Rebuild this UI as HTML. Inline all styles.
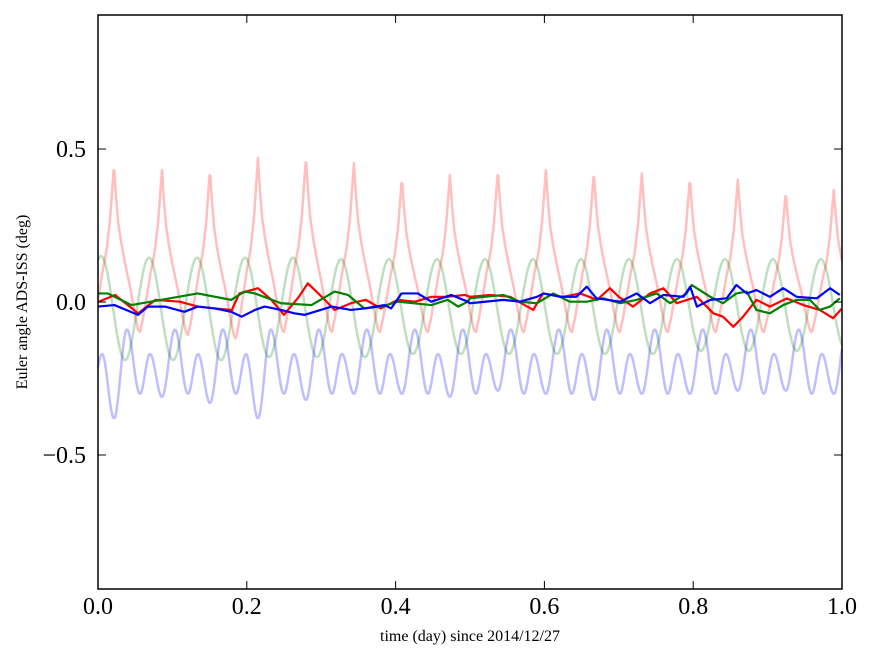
<!DOCTYPE html>
<html><head><meta charset="utf-8"><style>
html,body{margin:0;padding:0;background:#fff;width:875px;height:662px;overflow:hidden}
svg{display:block;font-family:"Liberation Serif",serif}
</style></head><body>
<svg id="chart" width="875" height="662" viewBox="0 0 875 662" xmlns="http://www.w3.org/2000/svg">
<rect x="0" y="0" width="875" height="662" fill="#fff"/>
<g id="faint"></g>
<g id="bold"></g>
<g id="axes"></g>
</svg>
<script>
// ---- data ----
const redT = [0,.023,.054,.077,.11,.134,.157,.18,.19,.215,.233,.25,.27,.282,.305,.318,.34,.36,.38,.403,.426,.448,.47,.493,.5,.527,.554,.585,.598,.625,.648,.671,.688,.7,.719,.742,.76,.778,.805,.827,.84,.854,.867,.885,.903,.926,.948,.97,.988,1.0];
const redV = [0,.023,-.037,.007,.001,-.015,-.021,-.026,.028,.045,.007,-.042,.017,.061,.007,-.026,-.004,.007,-.021,.007,.001,.017,.017,.023,.017,.023,.017,-.026,.028,.017,.028,.007,.045,.017,-.015,.028,.045,-.004,.017,-.037,-.048,-.081,-.048,.007,-.015,.012,-.010,-.026,-.053,-.021];
const greenT = [0,.013,.045,.134,.179,.197,.211,.246,.287,.318,.336,.358,.381,.403,.448,.47,.484,.497,.5,.545,.567,.59,.612,.634,.657,.679,.702,.724,.751,.769,.791,.798,.823,.84,.858,.872,.885,.903,.921,.939,.957,.97,.984,.997];
const greenV = [.028,.028,-.010,.028,.007,.034,.028,-.004,-.010,.034,.023,-.021,-.015,.001,-.010,.007,-.015,.001,.012,.023,.001,-.004,.028,.001,.001,.012,-.004,.007,.028,-.004,.028,.0555,.017,-.004,.028,.034,-.026,-.037,-.010,.007,.007,-.026,-.015,.012];
const blueT = [0,.022,.054,.067,.09,.116,.134,.157,.179,.193,.211,.224,.246,.264,.278,.314,.34,.358,.385,.394,.408,.43,.448,.475,.497,.5,.545,.567,.59,.599,.621,.643,.657,.67,.702,.724,.742,.76,.787,.796,.805,.823,.845,.858,.872,.885,.903,.921,.939,.966,.984,.997];
const blueV = [-.015,-.010,-.042,-.015,-.015,-.032,-.015,-.021,-.032,-.048,-.026,-.015,-.026,-.037,-.042,-.015,-.026,-.021,-.010,-.021,.028,.028,.001,.023,.001,-.004,.007,.001,.017,.028,.017,.017,.050,.012,.001,.028,-.004,.023,.017,.050,-.015,.007,.012,.0555,.028,.039,.017,.045,.017,.012,.045,.023];
// faint periodic series: per-orbit extrema
const redPeak = [.448,.431,.431,.471,.474,.454,.405,.415,.431,.431,.425,.42,.405,.4,.36,.366];
const redTrough = [-.1,-.11,-.12,-.1,-.1,-.1,-.1,-.1,-.1,-.1,-.1,-.1,-.1,-.1,-.1,-.1];
const greenPeak = [.15,.145,.145,.145,.145,.14,.14,.14,.14,.14,.14,.14,.14,.14,.14,.14];
const greenTrough = [-.19,-.19,-.19,-.18,-.18,-.18,-.17,-.17,-.17,-.17,-.17,-.17,-.16,-.16,-.16,-.15];
const blueDeep = [-.38,-.31,-.33,-.38,-.32,-.30,-.30,-.31,-.29,-.30,-.32,-.30,-.30,-.29,-.29,-.30];
const xTicks = [0,0.2,0.4,0.6,0.8,1.0];
const xTickLabels = ["0.0","0.2","0.4","0.6","0.8","1.0"];
const yTicks = [0.5,0,-0.5];
const yTickLabels = ["0.5","0.0","\u22120.5"];
const period = 0.0645, phase0 = 0.0215;

// ---- axes ----
const L=98,R=842,T=15,B=589,yMax=0.938,yMin=-0.938;
const sx=v=>L+(v-0)/(1-0)*(R-L);
const sy=v=>T+(yMax-v)/(yMax-yMin)*(B-T);
const NS="http://www.w3.org/2000/svg";
function mk(tag,attrs,parent){const e=document.createElementNS(NS,tag);for(const k in attrs)e.setAttribute(k,attrs[k]);parent.appendChild(e);return e;}
const faint=document.getElementById('faint'),bold=document.getElementById('bold'),axes=document.getElementById('axes');

const clampK=k=>Math.max(0,Math.min(15,k));
const ease=(a,b,f)=>a+(b-a)*(1-Math.cos(Math.PI*f))/2;
const lin=(a,b,f)=>a+(b-a)*f;
function keyInterp(keys,t,fn){fn=fn||ease;for(let i=0;i<keys.length-1;i++){if(t>=keys[i][0]&&t<=keys[i+1][0]){const f=(t-keys[i][0])/(keys[i+1][0]-keys[i][0]);return fn(keys[i][1],keys[i+1][1],f);}}return keys[keys.length-1][1];}
function redAt(x){const u=(x-phase0)/period,k=Math.floor(u),t=u-k;const P0=redPeak[clampK(k)],P1=redPeak[clampK(k+1)],tr=redTrough[clampK(k)];
 const down=[[0,1],[.04,.82],[.09,.65],[.16,.52],[.24,.4],[.33,.28],[.42,.13],[.5,.02],[.54,0]],up=[[.54,0],[.6,.08],[.68,.22],[.77,.38],[.85,.5],[.92,.68],[.97,.88],[1,1]];
 if(t<=.54){const f=keyInterp(down,t,lin);return tr+(P0-tr)*f;}const f=keyInterp(up,t,lin);return tr+(P1-tr)*f;}
function greenAt(x){const u=(x-phase0)/period,k=clampK(Math.round(u));const mid=(greenPeak[k]+greenTrough[k])/2,amp=(greenPeak[k]-greenTrough[k])/2;return mid+amp*Math.cos(2*Math.PI*(u-0.73));}
function blueAt(x){const u=(x-phase0)/period,k=Math.floor(u),t=u-k;const keys=[[0,blueDeep[clampK(k)]],[.27,-.09],[.54,-.30],[.75,-.17],[1,blueDeep[clampK(k+1)]]];return keyInterp(keys,t);}

function faintLine(fn,color,name){let d='';for(let i=0;i<=1000;i++){const x=i/1000;d+=(i?'L':'M')+sx(x).toFixed(2)+','+sy(fn(x)).toFixed(2);}
 const p=mk('path',{d:d,fill:'none',stroke:color,'stroke-width':2.5,'stroke-linejoin':'round'},faint);
 
 }
faintLine(greenAt,'rgba(0,128,0,0.25)','faint-green-line');
faintLine(blueAt,'rgba(0,0,255,0.25)','faint-blue-line');
faintLine(redAt,'rgba(255,0,0,0.25)','faint-red-line');

function boldLine(ts,vs,color,name){let d='';ts.forEach((t,i)=>{d+=(i?'L':'M')+sx(t).toFixed(2)+','+sy(vs[i]).toFixed(2);});
 const p=mk('path',{d:d,fill:'none',stroke:color,'stroke-width':2.2,'stroke-linejoin':'round'},bold);
 
 }
boldLine(redT,redV,'#ff0000','red-line');
boldLine(greenT,greenV,'#008000','green-line');
boldLine(blueT,blueV,'#0000ff','blue-line');

const frame=mk('rect',{x:L,y:T,width:R-L,height:B-T,fill:'none',stroke:'#000','stroke-width':1.5},axes);


xTicks.forEach((v,i)=>{const x=sx(v);
 mk('line',{x1:x,y1:B,x2:x,y2:B-8,stroke:'#000','stroke-width':1},axes);
 mk('line',{x1:x,y1:T,x2:x,y2:T+8,stroke:'#000','stroke-width':1},axes);
 const t=mk('text',{x:x,y:B+25,'font-size':24,'text-anchor':'middle'},axes);t.textContent=xTickLabels[i];
 
 });
yTicks.forEach((v,i)=>{const y=sy(v);
 mk('line',{x1:L,y1:y,x2:L+8,y2:y,stroke:'#000','stroke-width':1},axes);
 mk('line',{x1:R,y1:y,x2:R-8,y2:y,stroke:'#000','stroke-width':1},axes);
 const t=mk('text',{x:L-12,y:y+8,'font-size':24,'text-anchor':'end'},axes);t.textContent=yTickLabels[i];
 
 });
const xl=mk('text',{x:(L+R)/2,y:641,'font-size':16,'text-anchor':'middle'},axes);xl.textContent='time (day) since 2014/12/27';


const yl=mk('text',{x:0,y:0,'font-size':16,'text-anchor':'middle',transform:'translate(27,'+((T+B)/2)+') rotate(-90)'},axes);yl.textContent='Euler angle ADS-ISS (deg)';


</script>
</body></html>
